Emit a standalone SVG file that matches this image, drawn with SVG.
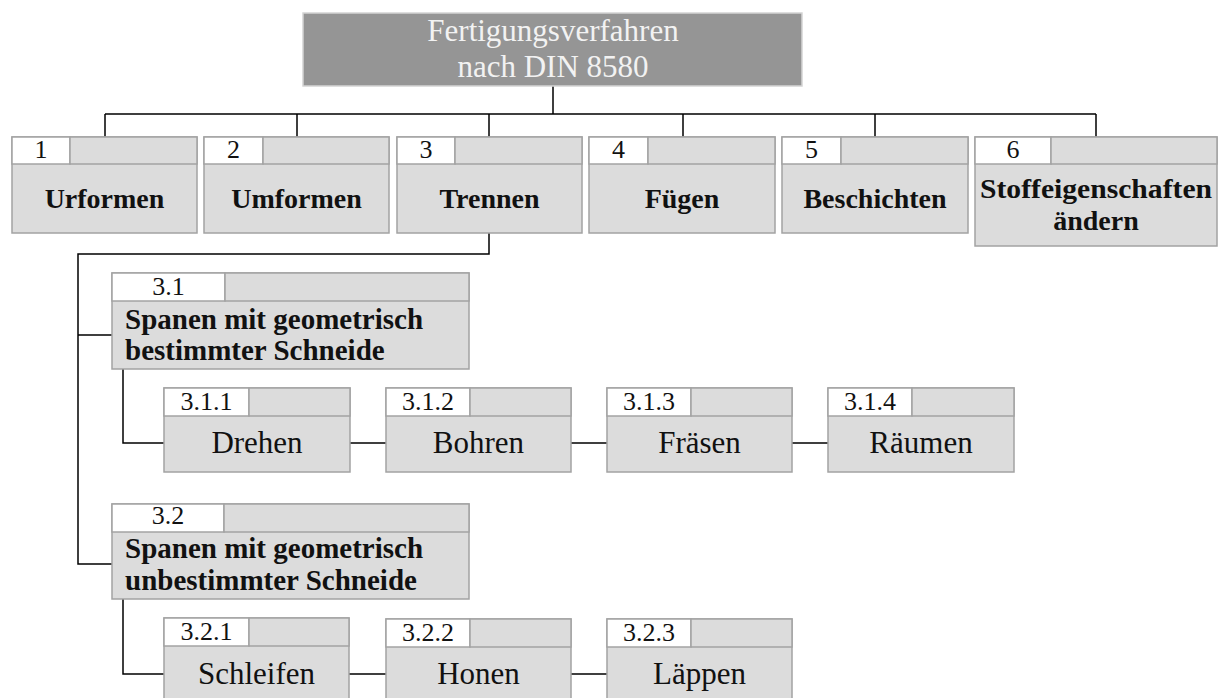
<svg xmlns="http://www.w3.org/2000/svg" width="1219" height="698" viewBox="0 0 1219 698">
<style>
.box{fill:#dcdcdc;stroke:#a3a3a3;stroke-width:1.5}
.num{fill:#ffffff;stroke:#a3a3a3;stroke-width:1.5}
.top{fill:#959595;stroke:#d4d4d4;stroke-width:1.5}
text{font-family:"Liberation Serif","Times New Roman",serif;fill:#111}
.n{font-size:26px;text-anchor:middle}
.b{font-size:28px;font-weight:bold;text-anchor:middle}
.bl{font-size:29px;font-weight:bold}
.r{font-size:31px;text-anchor:middle}
.t{font-size:31px;text-anchor:middle;fill:#f2f2f2}
.c{fill:none;stroke:#000;stroke-width:1.5}
</style>
<g id="connectors">
<path class="c" d="M553,86V114M105,114H1096M105,114V137M297,114V137M489,114V137M683,114V137M875,114V137M1096,114V137"/>
<path class="c" d="M489,233V254H78V564H112M78,335H112"/>
<path class="c" d="M123,369V443H164M350,443H386M571,443H607M792,443H828"/>
<path class="c" d="M123,599V674H164M349,674H386M571,674H607"/>
</g>
<g id="root"><rect class="top" x="303" y="13" width="499" height="73"/><text class="t" x="553" y="41">Fertigungsverfahren</text><text class="t" x="553" y="77">nach DIN 8580</text></g>
<g id="n1"><rect class="box" x="12" y="137" width="185" height="96"/><rect class="num" x="12" y="137" width="58" height="27"/><rect class="box" x="70" y="137" width="127" height="27"/><text class="n" x="41" y="158">1</text><text class="b" x="104.5" y="208">Urformen</text></g>
<g id="n2"><rect class="box" x="204" y="137" width="185" height="96"/><rect class="num" x="204" y="137" width="59" height="27"/><rect class="box" x="263" y="137" width="126" height="27"/><text class="n" x="233.5" y="158">2</text><text class="b" x="296.5" y="208">Umformen</text></g>
<g id="n3"><rect class="box" x="397" y="137" width="185" height="96"/><rect class="num" x="397" y="137" width="58" height="27"/><rect class="box" x="455" y="137" width="127" height="27"/><text class="n" x="426" y="158">3</text><text class="b" x="489.5" y="208">Trennen</text></g>
<g id="n4"><rect class="box" x="589" y="137" width="186" height="96"/><rect class="num" x="589" y="137" width="59" height="27"/><rect class="box" x="648" y="137" width="127" height="27"/><text class="n" x="618.5" y="158">4</text><text class="b" x="682" y="208">Fügen</text></g>
<g id="n5"><rect class="box" x="782" y="137" width="186" height="96"/><rect class="num" x="782" y="137" width="59" height="27"/><rect class="box" x="841" y="137" width="127" height="27"/><text class="n" x="811.5" y="158">5</text><text class="b" x="875" y="208">Beschichten</text></g>
<g id="n6"><rect class="box" x="975" y="137" width="242" height="109"/><rect class="num" x="975" y="137" width="76" height="27"/><rect class="box" x="1051" y="137" width="166" height="27"/><text class="n" x="1013" y="158">6</text><text class="b" x="1096" y="198" textLength="232" lengthAdjust="spacingAndGlyphs">Stoffeigenschaften</text><text class="b" x="1096" y="230">ändern</text></g>
<g id="n3_1"><rect class="box" x="112" y="273" width="357" height="96"/><rect class="num" x="112" y="273" width="113" height="28"/><rect class="box" x="225" y="273" width="244" height="28"/><text class="n" x="168.5" y="295">3.1</text><text class="bl" x="125" y="329">Spanen mit geometrisch</text><text class="bl" x="125" y="360">bestimmter Schneide</text></g>
<g id="n3_1_1"><rect class="box" x="164" y="388" width="186" height="84"/><rect class="num" x="164" y="388" width="85" height="28"/><rect class="box" x="249" y="388" width="101" height="28"/><text class="n" x="206.5" y="410">3.1.1</text><text class="r" x="257" y="453">Drehen</text></g>
<g id="n3_1_2"><rect class="box" x="386" y="388" width="185" height="84"/><rect class="num" x="386" y="388" width="84" height="28"/><rect class="box" x="470" y="388" width="101" height="28"/><text class="n" x="428" y="410">3.1.2</text><text class="r" x="478.5" y="453">Bohren</text></g>
<g id="n3_1_3"><rect class="box" x="607" y="388" width="185" height="84"/><rect class="num" x="607" y="388" width="84" height="28"/><rect class="box" x="691" y="388" width="101" height="28"/><text class="n" x="649" y="410">3.1.3</text><text class="r" x="699.5" y="453">Fräsen</text></g>
<g id="n3_1_4"><rect class="box" x="828" y="388" width="186" height="84"/><rect class="num" x="828" y="388" width="84" height="28"/><rect class="box" x="912" y="388" width="102" height="28"/><text class="n" x="870" y="410">3.1.4</text><text class="r" x="921" y="453">Räumen</text></g>
<g id="n3_2"><rect class="box" x="112" y="504" width="357" height="95"/><rect class="num" x="112" y="504" width="112" height="28"/><rect class="box" x="224" y="504" width="245" height="28"/><text class="n" x="168" y="524">3.2</text><text class="bl" x="125" y="558">Spanen mit geometrisch</text><text class="bl" x="125" y="590">unbestimmter Schneide</text></g>
<g id="n3_2_1"><rect class="box" x="164" y="618" width="185" height="84"/><rect class="num" x="164" y="618" width="85" height="28"/><rect class="box" x="249" y="618" width="100" height="28"/><text class="n" x="206.5" y="640">3.2.1</text><text class="r" x="256.5" y="684">Schleifen</text></g>
<g id="n3_2_2"><rect class="box" x="386" y="619" width="185" height="84"/><rect class="num" x="386" y="619" width="84" height="28"/><rect class="box" x="470" y="619" width="101" height="28"/><text class="n" x="428" y="641">3.2.2</text><text class="r" x="478.5" y="684">Honen</text></g>
<g id="n3_2_3"><rect class="box" x="607" y="619" width="185" height="84"/><rect class="num" x="607" y="619" width="84" height="28"/><rect class="box" x="691" y="619" width="101" height="28"/><text class="n" x="649" y="641">3.2.3</text><text class="r" x="699.5" y="684">Läppen</text></g>
</svg>
